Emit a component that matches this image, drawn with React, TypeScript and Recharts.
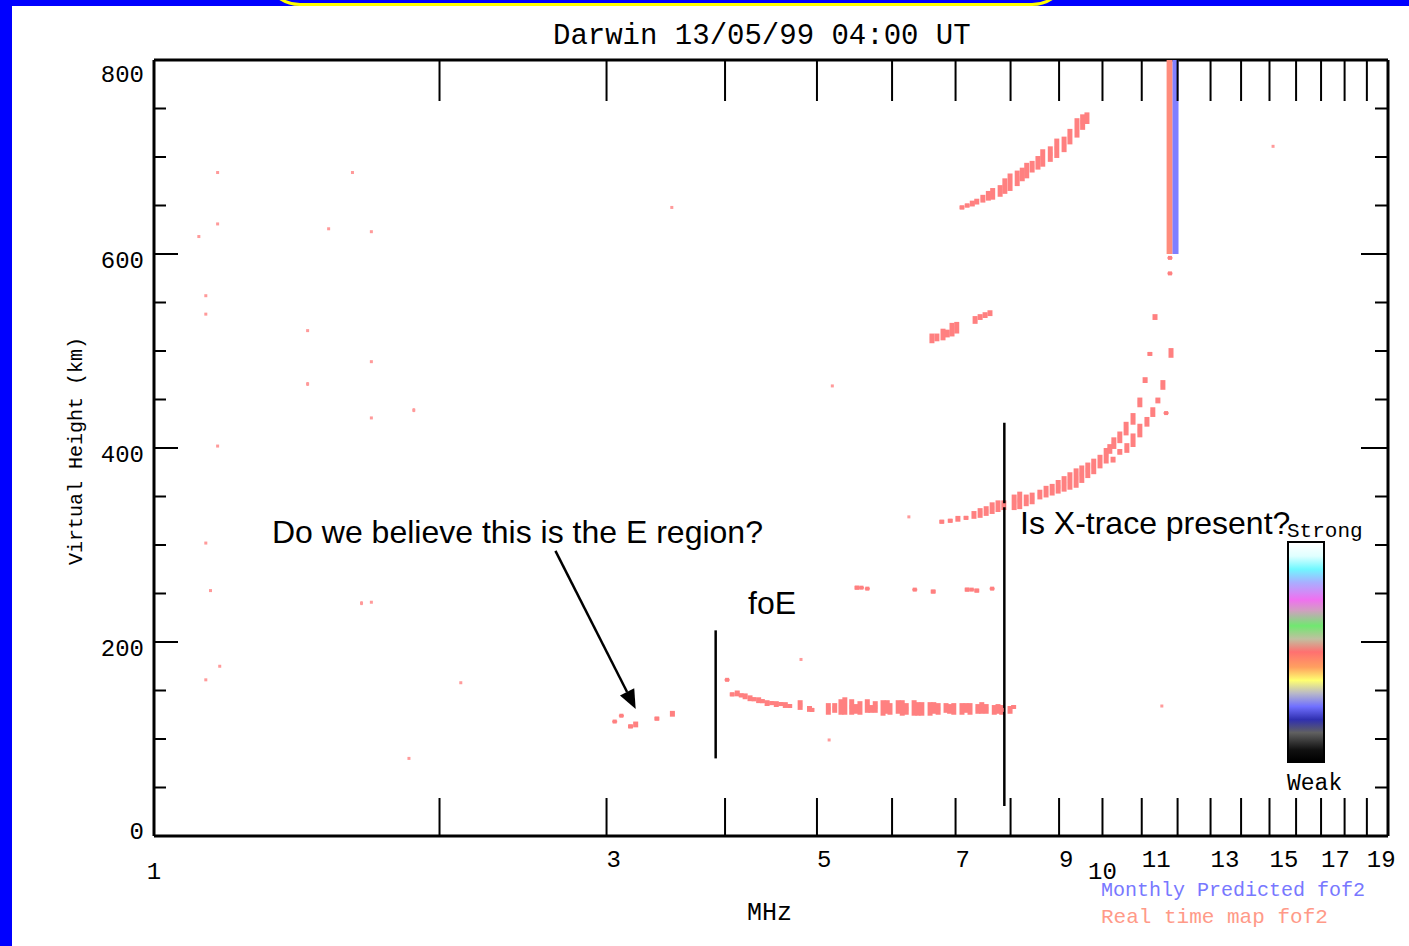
import React from "react";
import { ComposedChart, Scatter, XAxis, YAxis, ErrorBar, ReferenceLine } from "recharts";

// echoes: [frequency MHz, virtual height km, half of vertical spread km]
const eRegionDots = [
  [3.06, 118, 1], [3.11, 124, 1], [3.18, 113, 2], [3.22, 115, 3], [3.39, 121, 2], [3.52, 126, 3],
];

const eTraceLow = [
  [4.02, 161, 1], [4.07, 146, 2], [4.12, 147, 3], [4.16, 145, 2], [4.2, 144, 3], [4.25, 142, 3],
  [4.29, 141, 2], [4.34, 140, 3], [4.38, 139, 2], [4.43, 137, 3], [4.48, 137, 2], [4.53, 136, 3],
  [4.58, 136, 2], [4.63, 135, 3], [4.68, 134, 2], [4.8, 135, 5], [4.91, 131, 3], [4.94, 130, 2],
];

const eTrace = [
  [5.14, 131, 6], [5.22, 132, 5], [5.3, 133, 8], [5.35, 134, 9], [5.44, 133, 8], [5.5, 131, 5],
  [5.55, 132, 7], [5.65, 134, 7], [5.7, 131, 4], [5.76, 133, 6], [5.87, 132, 8], [5.93, 133, 7],
  [5.97, 131, 6], [6.09, 133, 7], [6.15, 132, 8], [6.21, 131, 6], [6.33, 132, 8], [6.39, 131, 7],
  [6.45, 131, 7], [6.58, 131, 7], [6.64, 132, 6], [6.71, 131, 6], [6.84, 132, 5], [6.9, 131, 5],
  [6.97, 131, 6], [7.11, 131, 6], [7.18, 132, 5], [7.25, 131, 6], [7.39, 131, 5], [7.46, 132, 6],
  [7.54, 131, 5], [7.69, 130, 5], [7.76, 131, 5], [7.83, 130, 5], [7.99, 130, 4], [8.06, 133, 2],
];

const fTrace = [
  [6.77, 324, 2], [6.91, 325, 2], [7.04, 327, 3], [7.18, 328, 2], [7.32, 331, 4], [7.43, 333, 5],
  [7.54, 335, 5], [7.65, 338, 6], [7.76, 340, 6], [7.87, 341, 5], [8.07, 344, 8], [8.18, 346, 9],
  [8.31, 346, 6], [8.43, 348, 6], [8.59, 352, 5], [8.72, 355, 6], [8.85, 357, 6], [8.98, 360, 7],
  [9.11, 363, 8], [9.24, 366, 9], [9.38, 369, 10], [9.51, 373, 9], [9.65, 377, 8], [9.79, 381, 8],
  [9.94, 386, 7], [10.09, 392, 8], [10.18, 399, 5], [10.28, 405, 6], [10.43, 411, 6], [10.59, 420, 7],
  [10.77, 430, 6], [10.95, 447, 5], [11.09, 470, 3], [11.22, 497, 2], [11.36, 535, 3],
];

const xTrace = [
  [10.26, 388, 3], [10.43, 396, 3], [10.61, 400, 5], [10.77, 408, 7], [10.95, 418, 7],
  [11.14, 427, 5], [11.3, 437, 5], [11.44, 449, 3], [11.58, 465, 5], [11.67, 436, 1],
  [11.81, 498, 5], [11.78, 580, 1], [11.78, 596, 1],
];

const fSecondHop = [
  [6.61, 513, 5], [6.69, 514, 4], [6.79, 517, 6], [6.86, 518, 4], [6.94, 522, 7], [7.02, 524, 6],
  [7.34, 532, 4], [7.43, 535, 3], [7.52, 537, 3], [7.61, 539, 3],
];

const fThirdHop = [
  [7.11, 648, 2], [7.2, 650, 2], [7.29, 652, 3], [7.37, 654, 3], [7.48, 657, 4], [7.58, 660, 5],
  [7.66, 662, 6], [7.8, 665, 6], [7.89, 670, 8], [7.99, 674, 9], [8.13, 678, 8], [8.23, 682, 7],
  [8.32, 686, 8], [8.43, 690, 6], [8.55, 694, 7], [8.65, 699, 9], [8.81, 703, 8], [8.95, 709, 10],
  [9.11, 713, 8], [9.24, 721, 8], [9.4, 730, 10], [9.53, 736, 8], [9.63, 740, 6],
];

const spreadEchoes = [
  [5.51, 256, 2], [5.57, 256, 1], [5.65, 255, 1], [6.34, 254, 1], [6.63, 252, 2],
  [7.2, 254, 2], [7.28, 254, 1], [7.37, 253, 2], [7.65, 255, 1],
];

const noiseDots = [
  [1.167, 684, 0], [1.619, 684, 0], [3.515, 648, 0], [1.167, 631, 0], [1.115, 618, 0], [1.528, 626, 0],
  [1.695, 623, 0], [15.13, 711, 0], [1.134, 557, 0], [1.134, 538, 0], [1.452, 521, 0], [1.695, 489, 0],
  [1.452, 466, 2], [1.879, 439, 2], [1.695, 431, 0], [1.167, 402, 0], [1.134, 302, 0], [1.147, 253, 0],
  [1.655, 240, 2], [1.695, 241, 0], [1.173, 175, 0], [1.134, 161, 0], [2.106, 158, 0], [1.857, 80, 0],
  [5.19, 464, 0], [6.25, 329, 0], [4.81, 182, 0], [5.15, 99, 0], [11.55, 134, 0],
];

const freqTicks = [1, 2, 3, 4, 5, 6, 7, 8, 9, 10, 11, 12, 13, 14, 15, 16, 17, 18, 19];
const freqLabels = [1, 3, 5, 7, 9, 10, 11, 13, 15, 17, 19];
const heightTicks = [0, 50, 100, 150, 200, 250, 300, 350, 400, 450, 500, 550, 600, 650, 700, 750, 800];

const realTimeFof2 = 11.77;
const monthlyFof2 = 11.94;
const fof2Heights = [600, 800];

const foeMarker = { f: 3.91, from: 80, to: 212 };
const xTraceMarker = { f: 7.88, from: 31, to: 426 };
const arrowFrom = { f: 2.65, h: 294 };
const arrowTo = { f: 3.22, h: 131 };

const colorBarStops = [
  ["#ffffff", 0], ["#e0ffff", 6], ["#70f8ff", 12], ["#a8b0ff", 18], ["#f070f0", 26], ["#d0a0c0", 31],
  ["#70e870", 38], ["#c0c0a0", 44], ["#ff7070", 50], ["#ffa060", 57], ["#ffff70", 63], ["#b8b8c8", 69],
  ["#7070ff", 75], ["#3030b0", 81], ["#606060", 87], ["#101010", 95], ["#000000", 100],
];

const TRACE = "#ff8080";
const HERSHEY = "'Liberation Mono', 'DejaVu Sans Mono', monospace";
const ARIAL = "'Liberation Sans', Arial, sans-serif";

const toPoints = (rows: number[][]) => rows.map(([f, h, e]) => ({ f, h, e }));

const box = (color: string, s: number) => (p: any) =>
  <rect x={p.cx - s / 2} y={p.cy - s / 2} width={s} height={s} fill={color} />;

function BottomTick({ x, y, payload }: any) {
  const v = payload.value;
  const low = v === 1 || v === 10;
  return (
    <g>
      {v !== 1 && <line x1={x} x2={x} y1={y} y2={y - 38} stroke="#000" strokeWidth={2} />}
      {freqLabels.includes(v) && (
        <text x={x} y={low ? y + 43 : y + 31} textAnchor={low ? "middle" : "start"}
          fontFamily={HERSHEY} fontSize={24} fill="#000">{v}</text>
      )}
    </g>
  );
}

function TopTick({ x, y, payload }: any) {
  if (payload.value === 1) return <g />;
  return <line x1={x} x2={x} y1={y} y2={y + 41} stroke="#000" strokeWidth={2} />;
}

function LeftTick({ x, y, payload }: any) {
  const v = payload.value;
  const major = v % 200 === 0;
  const dy = v === 800 ? 22 : v === 0 ? 3 : 14;
  return (
    <g>
      {v !== 0 && v !== 800 && (
        <line x1={x} x2={x + (major ? 24 : 12)} y1={y} y2={y} stroke="#000" strokeWidth={2} />
      )}
      {major && (
        <text x={x - 10} y={y + dy} textAnchor="end" fontFamily={HERSHEY} fontSize={24} fill="#000">{v}</text>
      )}
    </g>
  );
}

function RightTick({ x, y, payload }: any) {
  const v = payload.value;
  if (v === 0 || v === 800) return <g />;
  const major = v % 200 === 0;
  return <line x1={x} x2={x - (major ? 27 : 13)} y1={y} y2={y} stroke="#000" strokeWidth={2} />;
}

function ArrowShape(props: any) {
  const { x1, y1, x2, y2 } = props;
  const ang = Math.atan2(y2 - y1, x2 - x1);
  const len = 19;
  const half = 8;
  const bx = x2 - len * Math.cos(ang);
  const by = y2 - len * Math.sin(ang);
  const px = -Math.sin(ang) * half;
  const py = Math.cos(ang) * half;
  return (
    <g>
      <line x1={x1} y1={y1} x2={bx} y2={by} stroke="#000" strokeWidth={2.5} />
      <polygon points={`${x2},${y2} ${bx + px},${by + py} ${bx - px},${by - py}`} fill="#000" />
    </g>
  );
}

const traces = [eRegionDots, eTraceLow, eTrace, fTrace, xTrace, fSecondHop, fThirdHop, spreadEchoes];

export default function App() {
  const gradient = `linear-gradient(to bottom, ${colorBarStops.map(([c, p]) => `${c} ${p}%`).join(", ")})`;
  return (
    <div style={{ position: "fixed", left: 0, top: 0, width: 1409, height: 946, background: "#0000ff", overflow: "hidden" }}>
      <div style={{ position: "absolute", left: 262, top: -70, width: 808, height: 76, border: "3px solid #ffff00", borderRadius: 40, boxSizing: "border-box" }} />
      <div style={{ position: "absolute", left: 12, top: 6, right: 0, bottom: 0, background: "#ffffff" }} />
      <div style={{ position: "absolute", left: 0, top: 0 }}>
        <ComposedChart width={1409} height={946} margin={{ top: 59, left: 153, right: 20, bottom: 109 }}>
          <XAxis xAxisId="b" dataKey="f" type="number" scale="log" domain={[1, 20]} allowDataOverflow
            ticks={freqTicks} interval={0} height={1} tickSize={0} tickMargin={0} tickLine={false}
            axisLine={{ stroke: "#000", strokeWidth: 3 }} tick={<BottomTick />} />
          <XAxis xAxisId="t" orientation="top" dataKey="f" type="number" scale="log" domain={[1, 20]} allowDataOverflow
            ticks={freqTicks} interval={0} height={1} tickSize={0} tickMargin={0} tickLine={false}
            axisLine={{ stroke: "#000", strokeWidth: 3 }} tick={<TopTick />} />
          <YAxis yAxisId="l" dataKey="h" type="number" domain={[0, 800]} allowDataOverflow ticks={heightTicks}
            interval={0} width={1} tickSize={0} tickMargin={0} tickLine={false}
            axisLine={{ stroke: "#000", strokeWidth: 3 }} tick={<LeftTick />} />
          <YAxis yAxisId="r" orientation="right" dataKey="h" type="number" domain={[0, 800]} allowDataOverflow
            ticks={heightTicks} interval={0} width={1} tickSize={0} tickMargin={0} tickLine={false}
            axisLine={{ stroke: "#000", strokeWidth: 3 }} tick={<RightTick />} />

          <Scatter xAxisId="b" yAxisId="l" data={toPoints(noiseDots)} fill="#ff9a9a"
            shape={box("#ff9a9a", 3)} isAnimationActive={false}>
            <ErrorBar dataKey="e" direction="y" width={0} stroke="#ff9a9a" strokeWidth={2} isAnimationActive={false} />
          </Scatter>
          {traces.map((rows, i) => (
            <Scatter key={i} xAxisId="b" yAxisId="l" data={toPoints(rows)} fill={TRACE}
              shape={box(TRACE, 4)} isAnimationActive={false}>
              <ErrorBar dataKey="e" direction="y" width={0} stroke={TRACE} strokeWidth={5} isAnimationActive={false} />
            </Scatter>
          ))}

          <Scatter xAxisId="b" yAxisId="l" data={fof2Heights.map((h) => ({ f: realTimeFof2, h }))}
            line={{ stroke: "#ff8c7c", strokeWidth: 6 }} shape={() => <g />} isAnimationActive={false} />
          <Scatter xAxisId="b" yAxisId="l" data={fof2Heights.map((h) => ({ f: monthlyFof2, h }))}
            line={{ stroke: "#7f7fff", strokeWidth: 6 }} shape={() => <g />} isAnimationActive={false} />

          <ReferenceLine xAxisId="b" yAxisId="l" ifOverflow="visible" stroke="#000" strokeWidth={2.5}
            segment={[{ x: foeMarker.f, y: foeMarker.from }, { x: foeMarker.f, y: foeMarker.to }]} />
          <ReferenceLine xAxisId="b" yAxisId="l" ifOverflow="visible" stroke="#000" strokeWidth={2.5}
            segment={[{ x: xTraceMarker.f, y: xTraceMarker.from }, { x: xTraceMarker.f, y: xTraceMarker.to }]} />
          <ReferenceLine xAxisId="b" yAxisId="l" ifOverflow="visible" shape={ArrowShape}
            segment={[{ x: arrowFrom.f, y: arrowFrom.h }, { x: arrowTo.f, y: arrowTo.h }]} />
        </ComposedChart>
      </div>

      <div style={{ position: "absolute", left: 1287, top: 541, width: 38, height: 222, border: "2px solid #000",
        boxSizing: "border-box", background: gradient }} />

      <svg width={1409} height={946} style={{ position: "absolute", left: 0, top: 0, pointerEvents: "none" }}>
        <text x={553} y={44} fontFamily={HERSHEY} fontSize={29} fill="#000">Darwin 13/05/99 04:00 UT</text>
        <text x={747} y={920} fontFamily={HERSHEY} fontSize={25} fill="#000">MHz</text>
        <text transform="translate(82 451) rotate(-90)" textAnchor="middle" fontFamily={HERSHEY} fontSize={20} fill="#000">
          Virtual Height (km)
        </text>
        <text x={1287} y={537} fontFamily={HERSHEY} fontSize={21} fill="#000">Strong</text>
        <text x={1287} y={790} fontFamily={HERSHEY} fontSize={23} fill="#000">Weak</text>
        <text x={1101} y={896} fontFamily={HERSHEY} fontSize={20} fill="#7878ff">Monthly Predicted fof2</text>
        <text x={1101} y={923} fontFamily={HERSHEY} fontSize={21} fill="#ff9a88">Real time map fof2</text>
        <text x={272} y={543} fontFamily={ARIAL} fontSize={32} fill="#000">Do we believe this is the E region?</text>
        <text x={748} y={614} fontFamily={ARIAL} fontSize={32} fill="#000">foE</text>
        <text x={1020} y={534} fontFamily={ARIAL} fontSize={32} fill="#000">Is X-trace present?</text>
      </svg>
    </div>
  );
}
